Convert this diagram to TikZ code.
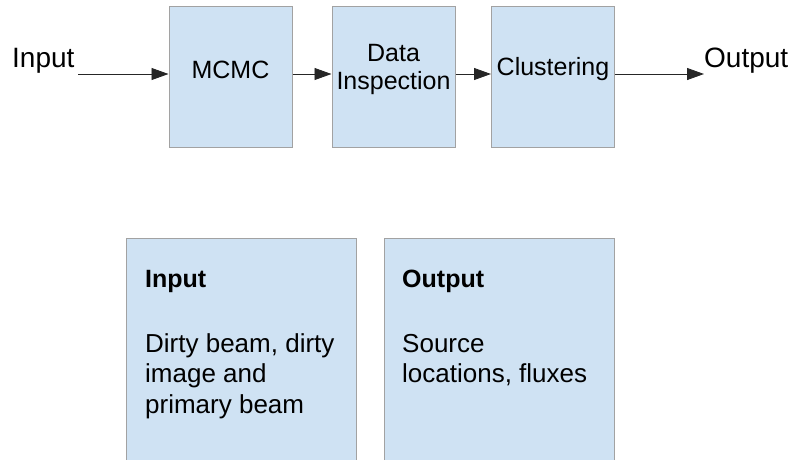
\documentclass[tikz,border=0pt]{standalone}
\usepackage{fontspec}
\setmainfont{Liberation Sans}
\usetikzlibrary{arrows.meta,positioning}
\definecolor{boxblue}{HTML}{CFE2F3}
\definecolor{boxedge}{HTML}{A2A2A2}

\begin{document}
\begin{tikzpicture}[x=1pt, y=-1pt,
  stage/.style={fill=boxblue, draw=boxedge, line width=1pt,
    minimum width=123pt, minimum height=141pt, inner sep=0pt},
  stagetext/.style={font=\fontsize{25}{28}\selectfont, align=center, inner sep=0pt},
  sidelabel/.style={font=\fontsize{28}{32}\selectfont, inner sep=0pt, anchor=base west},
  flow/.style={-{Triangle[length=17pt,width=12pt]}, line width=0.9pt, draw=black!85},
  notebox/.style={fill=boxblue, draw=boxedge, line width=1pt, anchor=north west,
    minimum width=230pt, minimum height=250pt, inner sep=0pt},
  notetitle/.style={font=\bfseries\fontsize{25}{28}\selectfont, inner sep=0pt, anchor=base west},
  notebody/.style={font=\fontsize{26}{30.5}\selectfont, align=left, inner sep=0pt, anchor=base west}]

\useasboundingbox (0,0) rectangle (792,459);
\clip (0,0) rectangle (792,459);

%% Pipeline stages
\node[stage] (mcmc)  at (230.5,76.5) {};
\node[stage] (dins)  at (393.5,76.5) {};
\node[stage] (clust) at (553,76.5) {};
\node[stagetext] (mcmctxt)  at ([yshift=7pt]mcmc.center)  {MCMC};
\node[stagetext] (dinstxt)  at ([yshift=7pt]dins.center)  {Data\\Inspection};
\node[stagetext] (clusttxt) at ([yshift=7pt]clust.center) {Clustering};

%% Input / output labels
\node[sidelabel] (inlabel)  at (12,67)  {Input};
\node[sidelabel] (outlabel) at (704,67) {Output};
\coordinate (instart) at (78,74);
\coordinate (outend)  at (704,74);

%% Flow arrows
\draw[flow] (instart) -- (instart -| mcmc.west);
\draw[flow] (instart -| mcmc.east) -- (instart -| dins.west);
\draw[flow] (instart -| dins.east) -- (instart -| clust.west);
\draw[flow] (instart -| clust.east) -- (outend);

%% Notes below (multi-line nodes sit on their last baseline)
\node[notebox] (inbox)  at (126,238) {};
\node[notebox] (outbox) at (384,238) {};
\node[notetitle] (intitle)  at (145,287) {Input};
\node[notetitle] (outtitle) at (402,287) {Output};
\node[notebody] (inbody)  at (145,413) {Dirty beam, dirty\\image and\\primary beam};
\node[notebody] (outbody) at (402,382.5) {Source\\locations, fluxes};

\end{tikzpicture}
\end{document}
